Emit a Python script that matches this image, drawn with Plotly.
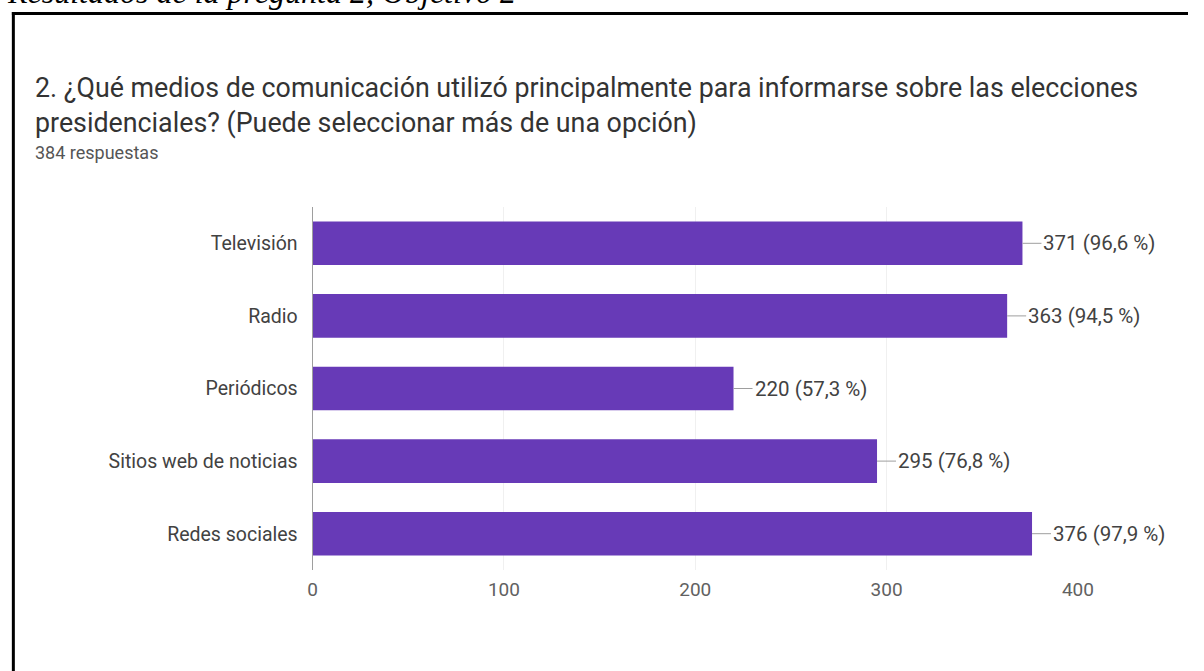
import plotly.graph_objects as go

# Survey answers for question 2 (multiple choice, 384 responses)
categorias = ["Televisión", "Radio", "Periódicos", "Sitios web de noticias", "Redes sociales"]
respuestas = [371, 363, 220, 295, 376]
porcentajes = ["96,6", "94,5", "57,3", "76,8", "97,9"]
total_respuestas = 384
ticks_x = [0, 100, 200, 300, 400]

W, H = 1204, 671
PURPLE = "#673ab7"
FONT = "Roboto, Arial, sans-serif"

fig = go.Figure()
fig.add_trace(go.Bar(
    y=categorias,
    x=respuestas,
    orientation="h",
    marker=dict(color=PURPLE, line=dict(width=0)),
    hoverinfo="skip",
))

# Value labels with a short leader line from the end of each bar
for cat, val, pct in zip(categorias, respuestas, porcentajes):
    fig.add_annotation(
        x=val, y=cat, xref="x", yref="y",
        text=f"{val} ({pct} %)",
        showarrow=True, arrowhead=0, arrowwidth=1, arrowcolor="#9e9e9e",
        ax=19, ay=0, xanchor="left", yanchor="middle",
        standoff=0, startstandoff=0,
        font=dict(family=FONT, size=20.5, color="#424242"),
    )

# Question header
fig.add_annotation(
    x=28 / W, y=1 - 70 / H, xref="paper", yref="paper",
    xanchor="left", yanchor="top", align="left", showarrow=False,
    text="2. ¿Qué medios de comunicación utilizó principalmente para informarse sobre las elecciones<br>"
         "presidenciales? (Puede seleccionar más de una opción)",
    font=dict(family=FONT, size=26.8, color="#333333"),
)
fig.add_annotation(
    x=28 / W, y=1 - 140 / H, xref="paper", yref="paper",
    xanchor="left", yanchor="top", showarrow=False,
    text=f"{total_respuestas} respuestas",
    font=dict(family=FONT, size=18, color="#555555"),
)

# Document caption above the framed chart
fig.add_annotation(
    x=0, y=1 - 12 / H, xref="paper", yref="paper",
    xanchor="left", yanchor="bottom", showarrow=False,
    text="<i>Resultados de la pregunta 2, Objetivo 2</i>",
    font=dict(family="Liberation Serif, Times New Roman, serif", size=32, color="#000000"),
)

# Frame around the chart
fig.add_shape(type="line", xref="paper", yref="paper",
              x0=7 / W, x1=1, y0=1 - 13.5 / H, y1=1 - 13.5 / H,
              line=dict(color="#000000", width=3))
fig.add_shape(type="line", xref="paper", yref="paper",
              x0=8.5 / W, x1=8.5 / W, y0=1 - 12 / H, y1=0,
              line=dict(color="#000000", width=3))

fig.update_layout(
    width=W, height=H, autosize=False,
    margin=dict(l=0, r=0, t=0, b=0),
    paper_bgcolor="#ffffff",
    plot_bgcolor="#ffffff",
    showlegend=False,
    bargap=0.4,
    font=dict(family=FONT, size=19, color="#424242"),
    xaxis=dict(
        domain=[313 / W, 1092 / W],
        range=[0, 400],
        tickvals=ticks_x,
        showgrid=True, gridcolor="#f0f0f0", gridwidth=1,
        zeroline=False, showline=False,
        ticks="", tickfont=dict(family=FONT, size=19, color="#616161"),
        ticklabelstandoff=6,
        fixedrange=True,
    ),
    yaxis=dict(
        domain=[1 - 570 / H, 1 - 207 / H],
        categoryorder="array", categoryarray=categorias[::-1],
        showgrid=False, zeroline=False,
        showline=True, linecolor="#9e9e9e", linewidth=1,
        ticks="", ticklabelstandoff=10,
        tickfont=dict(family=FONT, size=19.5, color="#424242"),
        fixedrange=True,
    ),
)

# Page without body margin or scrollbars, so the figure fills the window
page_css = (
    "document.body.style.margin='0';"
    "document.documentElement.style.overflow='hidden';"
    "document.body.style.overflow='hidden';"
)
fig.write_html("out.html", config={"responsive": False, "displayModeBar": False},
               post_script=page_css)
